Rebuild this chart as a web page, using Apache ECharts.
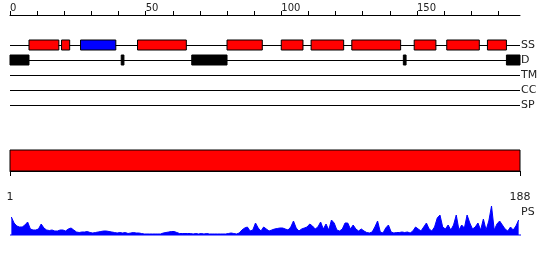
<!DOCTYPE html>
<html>
<head>
<meta charset="utf-8">
<script src="https://cdn.jsdelivr.net/npm/echarts@6/dist/echarts.min.js"></script>
<style>html,body{margin:0;padding:0;background:#fff}#c{width:550px;height:260px}</style>
</head>
<body>
<div id="c"></div>
<script>
// Feature tracks
const tracks = ['SS', 'D', 'TM', 'CC', 'SP'];
// Secondary structure segments: [start, end, type]  (H = helix, E = strand)
const ssStart = [7, 19, 26, 47, 80, 100, 111, 126, 149, 161, 176];
const ssEnd   = [18, 22, 39, 65, 93, 108, 123, 144, 157, 173, 183];
const ssType  = ['H', 'H', 'E', 'H', 'H', 'H', 'H', 'H', 'H', 'H', 'H'];
// Disorder segments
const dStart = [0, 41, 67, 145, 183];
const dEnd   = [7, 42, 80, 146, 188];
// Domain
const domainStart = 1, domainEnd = 188;
// Axis ticks
const topTicks = [0, 10, 20, 30, 40, 50, 60, 70, 80, 90, 100, 110, 120, 130, 140, 150, 160, 170, 180];
const topLabels = [0, 50, 100, 150];
const seqLength = 188;
// PS profile (per residue 1..188)
const ps = [
 18,12,9,8,8,10,13,6,5,5, 6,11,7,5,4.5,5,4,4,5,5,
 4,6,7,5,3,2.5,3,3,3.5,2.5, 2,2.5,3,3.5,4,4,3.5,3,2.5,2,
 2.5,2,2.5,1.5,2,2.5,2,2,1.5,1, 1,1,1,1,1,1,2,2.5,3,3.5,
 3.5,2.5,1.5,1.5,1.5,1.5,1.5,1,1.5,1, 1.5,1,1.5,1,1,1,1,1,1,1,
 1.5,2,1.5,1,2,5,7,8,4,5, 12,7,4,8,6,4,5,6,6.5,7,
 7,6,5,8,14,7,4,6,7,8, 11,9,6,8,13,6,11,5,15,12,
 5,4,6,12,12,6,10,6,4,6, 4,2.5,2,3,8,14,3,2,7,10,
 3,2,2.5,2.5,3,2.5,3,2,4,8, 6,4,8,12,6,4,8,17,20,8,
 6,10,5,10,20,5,10,7,20,12, 6,8,12,5,16,5,14,29,5,11,
 14,10,6,4,8,5,9,15
];

const BLACK = '#000';
const RED = '#ff0000';
const BLUE = '#0000ff';
const FONT = 'DejaVu Sans';

const chart = echarts.init(document.getElementById('c'), null, {renderer: 'canvas'});

function rectSeries(name, starts, ends, trackIdx, colors, h) {
  return {
    type: 'custom', name: name, xAxisIndex: 0, yAxisIndex: 0,
    data: starts.map((s, i) => [s, ends[i], trackIdx]),
    renderItem: function (params, api) {
      const p1 = api.coord([api.value(0), api.value(2)]);
      const p2 = api.coord([api.value(1), api.value(2)]);
      return {
        type: 'rect',
        shape: {x: p1[0], y: p1[1] - h / 2, width: p2[0] - p1[0], height: h},
        style: {fill: colors[params.dataIndex], stroke: BLACK, lineWidth: 1}
      };
    },
    z: 5, silent: true
  };
}

const ssColors = ssType.map(t => t === 'E' ? BLUE : RED);
const dColors = dStart.map(() => BLACK);

const option = {
  animation: false,
  backgroundColor: '#fff',
  title: {
    text: 'PS', left: 521, top: 207, padding: 0,
    textStyle: {fontFamily: FONT, fontSize: 11, fontWeight: 'normal', color: '#222'}
  },
  grid: [
    {left: 10, right: 30, top: 45, height: 60},
    {left: 10, right: 30, top: 150, height: 21},
    {left: 10, right: 30, top: 206, height: 29}
  ],
  xAxis: [
    {
      gridIndex: 0, type: 'value', min: 0, max: seqLength, position: 'top', offset: 30,
      axisLine: {show: true, lineStyle: {color: BLACK, width: 1}},
      axisTick: {show: true, length: 4, inside: false, customValues: topTicks, lineStyle: {color: BLACK}},
      axisLabel: {show: true, customValues: topLabels, align: 'left', margin: 2,
        fontFamily: FONT, fontSize: 10, color: '#222'},
      splitLine: {show: false}
    },
    {
      gridIndex: 1, type: 'value', min: domainStart, max: domainEnd, position: 'bottom', offset: 11,
      axisLine: {show: true, lineStyle: {color: BLACK, width: 1}},
      axisTick: {show: true, length: 5, customValues: [domainStart, domainEnd], lineStyle: {color: BLACK}},
      axisLabel: {show: true, customValues: [domainStart, domainEnd], margin: 10,
        fontFamily: FONT, fontSize: 11, color: '#222'},
      splitLine: {show: false}
    },
    {
      gridIndex: 2, type: 'value', min: 0, max: seqLength, show: false
    }
  ],
  yAxis: [
    {
      gridIndex: 0, type: 'category', data: tracks, inverse: true, boundaryGap: false, position: 'right',
      axisLine: {show: false}, axisTick: {show: false},
      axisLabel: {show: true, interval: 0, margin: 1, fontFamily: FONT, fontSize: 11, color: '#222'},
      splitLine: {show: true, interval: 0, lineStyle: {color: BLACK, width: 1}}
    },
    {gridIndex: 1, type: 'value', min: 0, max: 1, show: false},
    {gridIndex: 2, type: 'value', min: 0, max: 29, show: false}
  ],
  series: [
    rectSeries('SS', ssStart, ssEnd, 0, ssColors, 10),
    rectSeries('D', dStart, dEnd, 1, dColors, 10),
    {
      type: 'custom', name: 'domain', xAxisIndex: 1, yAxisIndex: 1,
      data: [[domainStart, domainEnd]],
      renderItem: function (params, api) {
        const p1 = api.coord([api.value(0), 1]);
        const p2 = api.coord([api.value(1), 0]);
        return {
          type: 'rect',
          shape: {x: p1[0], y: p1[1], width: p2[0] - p1[0], height: p2[1] - p1[1]},
          style: {fill: RED, stroke: BLACK, lineWidth: 1}
        };
      },
      silent: true
    },
    {
      type: 'line', name: 'PS', xAxisIndex: 2, yAxisIndex: 2,
      data: ps.map((v, i) => [i + 0.5, v]),
      symbol: 'none', smooth: false,
      lineStyle: {color: BLUE, width: 1},
      areaStyle: {color: BLUE, opacity: 1},
      silent: true
    },
    {
      type: 'line', name: 'base', xAxisIndex: 2, yAxisIndex: 2,
      data: [[0, 0], [seqLength + 5, 0]],
      symbol: 'none', clip: false,
      lineStyle: {color: BLUE, width: 1},
      silent: true
    }
  ]
};
chart.setOption(option);
</script>
</body>
</html>
